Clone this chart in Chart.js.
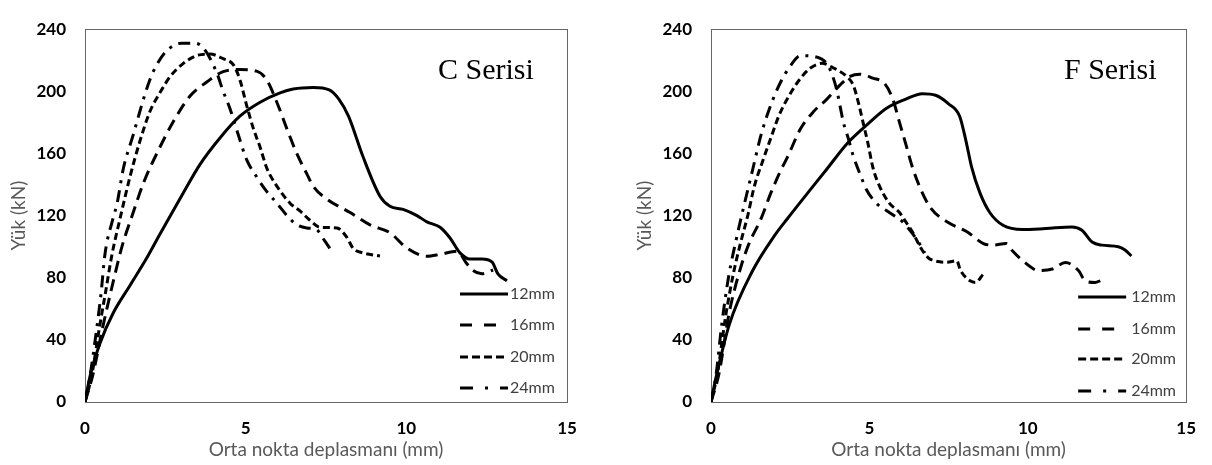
<!DOCTYPE html>
<html lang="tr">
<head>
<meta charset="UTF-8">
<title>Yük - deplasman</title>
<script src="https://cdn.jsdelivr.net/npm/chart.js"></script>
<style>
  body { margin: 0; background: #fff; }
  .panel { position: absolute; top: 0; width: 606px; height: 465px; }
</style>
</head>
<body>
<div class="panel" style="left:0"><canvas id="chartC" width="606" height="465"></canvas></div>
<div class="panel" style="left:606px"><canvas id="chartF" width="606" height="465"></canvas></div>

<script>
// labels
const seriesLabels = ['12mm', '16mm', '20mm', '24mm'];
const xTitle = 'Orta nokta deplasmanı (mm)';
const yTitle = 'Yük (kN)';

// C Serisi (x in mm, y in kN)
const c12x = [0, 0.15, 0.47, 0.87, 1.4, 1.93, 2.33, 2.96, 3.58, 4.2, 4.82, 5.45, 6.07, 6.48, 7.1, 7.6, 7.9, 8.2, 8.65, 9.18, 9.49, 9.9, 10.33, 10.64, 11.05, 11.36, 11.67, 11.98, 12.35, 12.67, 12.85, 13.13];
const c12y = [0, 16, 38, 57, 75, 93, 108, 131, 153, 170, 184, 193, 199, 201.5, 202.5, 201, 195, 184, 158, 132.5, 126, 124, 120, 116, 112.5, 105.6, 96, 92, 92, 90, 82.5, 78];
const c16x = [0, 0.25, 0.55, 0.85, 1.15, 1.5, 1.82, 2.33, 2.75, 3.27, 3.79, 4.3, 4.82, 5.34, 5.65, 5.97, 6.28, 6.59, 6.9, 7.1, 7.53, 8.25, 8.87, 9.49, 10.0, 10.64, 11.05, 11.58, 11.89, 12.05, 12.35, 12.7];
const c16y = [0, 18, 48, 75, 100, 122, 141, 164, 180.6, 197, 206, 212.7, 214, 213, 207.5, 193, 176, 160, 147, 139, 130.6, 122, 114, 109, 99.4, 93.8, 95, 97, 88.8, 85, 82.5, 85];
const c20x = [0, 0.2, 0.45, 0.65, 0.84, 1.09, 1.4, 1.71, 2.02, 2.33, 2.65, 3.06, 3.47, 3.89, 4.3, 4.62, 4.82, 5.03, 5.24, 5.45, 5.65, 5.97, 6.38, 6.69, 7.0, 7.31, 7.84, 8.15, 8.34, 8.65, 9.18];
const c20y = [0, 16, 48, 72, 95, 118, 145, 168, 187, 199, 209.5, 218, 223, 224, 221, 217, 207.5, 191, 176, 164, 151, 139, 128, 123, 117, 112.5, 112, 106, 99, 96, 94];
const c24x = [0, 0.15, 0.35, 0.5, 0.62, 0.87, 1.0, 1.19, 1.5, 1.82, 2.02, 2.23, 2.54, 3.01, 3.42, 3.68, 4.1, 4.3, 4.51, 4.77, 5.03, 5.34, 5.6, 5.97, 6.33, 6.6, 6.9, 7.2, 7.45, 7.68];
const c24y = [0, 16, 45, 70, 95, 118, 128, 150, 172, 195, 207.5, 217, 226, 231, 231, 228, 212, 200, 189, 172, 156, 145, 137, 128, 119, 114, 112, 111, 104, 97];

// F Serisi
const f12x = [0, 0.15, 0.58, 1.3, 2.0, 2.41, 3.03, 3.66, 4.28, 4.9, 5.53, 6.15, 6.67, 7.09, 7.5, 7.85, 8.05, 8.23, 8.49, 8.8, 9.22, 9.84, 10.57, 11.4, 11.71, 12.03, 12.34, 12.86, 13.06, 13.27];
const f12y = [0, 15, 50, 84, 107, 118, 134, 150, 166, 178, 189, 195, 198.5, 197.5, 192, 184, 168, 151, 134.6, 122, 113.75, 111, 111.7, 112.7, 110.6, 103, 101, 100, 98, 94];
const f16x = [0, 0.25, 0.58, 0.9, 1.18, 1.58, 1.89, 2.2, 2.41, 2.83, 3.24, 3.66, 4.07, 4.39, 4.7, 5.11, 5.48, 5.74, 5.95, 6.15, 6.36, 6.62, 6.93, 7.45, 8.08, 8.6, 8.9, 9.32, 9.53, 9.84, 10.36, 10.78, 11.19, 11.6, 11.82, 12.13, 12.39];
const f16y = [0, 18, 58, 84, 101, 118, 134.6, 149, 157.5, 176, 187, 195, 204, 209.6, 211, 208.5, 205, 195, 180, 166, 151, 137, 125, 116, 109.6, 102, 101, 102, 97, 91, 84.6, 85.6, 89.8, 84.6, 78, 77, 79];
const f20x = [0, 0.2, 0.46, 0.7, 0.94, 1.16, 1.37, 1.63, 1.89, 2.15, 2.46, 2.83, 3.14, 3.5, 3.87, 4.28, 4.49, 4.65, 4.8, 4.96, 5.11, 5.32, 5.63, 5.95, 6.15, 6.4, 6.6, 6.85, 7.04, 7.45, 7.76, 7.87, 8.18, 8.35, 8.6];
const f20y = [0, 18, 55, 82, 103, 120, 139, 155, 170, 184.6, 197, 208.5, 215, 218, 215, 209.6, 204, 193, 180, 166, 151, 139, 128, 122, 116, 108, 100, 93, 91, 90, 91, 85, 78, 77, 82.5];
const f24x = [0, 0.15, 0.34, 0.55, 0.8, 1.06, 1.32, 1.58, 1.94, 2.2, 2.46, 2.83, 3.35, 3.71, 3.97, 4.07, 4.18, 4.33, 4.49, 4.7, 4.9, 5.22, 5.63, 6.05, 6.3, 6.55, 6.75];
const f24y = [0, 16, 50, 80, 105, 128, 150, 172, 194, 206, 215, 223, 222, 216, 201, 191, 180, 170, 158.5, 147, 137, 128, 122, 116, 110, 103, 96];

// line styles per series: solid, long dash, short dash, dash-dot
const dashes = [[], [12, 7], [7, 4], [12, 7, 3, 7]];
const legendDashes = [[], [12, 12], [8, 4], [13, 12, 3, 12]];

Chart.defaults.font.family = 'Lato';

function pts(xs, ys) {
  return xs.map((x, i) => ({ x: x, y: ys[i] }));
}

// plot frame, panel name and the little legend inside the plot
const panelPlugin = {
  id: 'panel',
  beforeDatasetsDraw(chart) {
    const { ctx, chartArea: a } = chart;
    ctx.save();
    ctx.strokeStyle = '#666';
    ctx.lineWidth = 1;
    ctx.strokeRect(Math.round(a.left) + 0.5, Math.round(a.top) + 0.5, Math.round(a.width), Math.round(a.height));
    ctx.restore();
  },
  afterDraw(chart, args, opts) {
    const { ctx, chartArea: a } = chart;
    ctx.save();
    ctx.fillStyle = '#000';
    ctx.font = '30px "Liberation Serif"';
    ctx.textBaseline = 'alphabetic';
    ctx.fillText(opts.name, a.left + 353, a.top + 50);

    ctx.font = '16px Lato';
    ctx.textBaseline = 'middle';
    chart.data.datasets.forEach((ds, i) => {
      const y = a.bottom - opts.rows[i];
      ctx.strokeStyle = '#000';
      ctx.lineWidth = 3;
      ctx.setLineDash(legendDashes[i]);
      ctx.beginPath();
      ctx.moveTo(a.right - opts.lineFrom, y);
      ctx.lineTo(a.right - opts.lineTo, y);
      ctx.stroke();
      ctx.setLineDash([]);
      ctx.fillStyle = '#404040';
      ctx.fillText(ds.label, a.right - opts.textAt, y);
    });
    ctx.restore();
  }
};

function makeChart(id, series, panel, padLeft, padRight) {
  const ctx = document.getElementById(id).getContext('2d');
  return new Chart(ctx, {
    type: 'line',
    data: {
      datasets: series.map((s, i) => ({
        label: seriesLabels[i],
        data: s,
        borderColor: '#000',
        borderWidth: 3,
        borderDash: dashes[i],
        pointRadius: 0,
        fill: false,
        cubicInterpolationMode: 'monotone'
      }))
    },
    options: {
      responsive: false,
      animation: false,
      devicePixelRatio: 1,
      layout: { padding: { top: 18, right: padRight, bottom: 0, left: padLeft } },
      plugins: {
        legend: { display: false },
        tooltip: { enabled: false },
        panel: panel
      },
      scales: {
        x: {
          type: 'linear',
          min: 0,
          max: 15,
          grid: { display: false, drawTicks: false },
          border: { display: false },
          ticks: { stepSize: 5, padding: 16, color: '#000', font: { size: 17, weight: 'bold' } },
          title: { display: true, text: xTitle, color: '#595959', font: { size: 19 }, padding: { top: 0, bottom: 4 } },
          afterFit(scale) { scale.height = 63; }
        },
        y: {
          min: 0,
          max: 240,
          grid: { display: false, drawTicks: false },
          border: { display: false },
          ticks: { stepSize: 40, padding: 19, color: '#000', font: { size: 17, weight: 'bold' } },
          title: { display: true, text: yTitle, color: '#595959', font: { size: 19 }, padding: { top: 7, bottom: 0 } },
          afterFit(scale) { scale.width = 85; }
        }
      }
    },
    plugins: [panelPlugin]
  });
}

makeChart('chartC',
  [pts(c12x, c12y), pts(c16x, c16y), pts(c20x, c20y), pts(c24x, c24y)],
  { name: 'C Serisi', rows: [108, 77, 45, 14], lineFrom: 107, lineTo: 59, textAt: 57 },
  0, 39);

makeChart('chartF',
  [pts(f12x, f12y), pts(f16x, f16y), pts(f20x, f20y), pts(f24x, f24y)],
  { name: 'F Serisi', rows: [105, 73, 43, 11], lineFrom: 108, lineTo: 60, textAt: 55 },
  20, 20);
</script>
</body>
</html>
